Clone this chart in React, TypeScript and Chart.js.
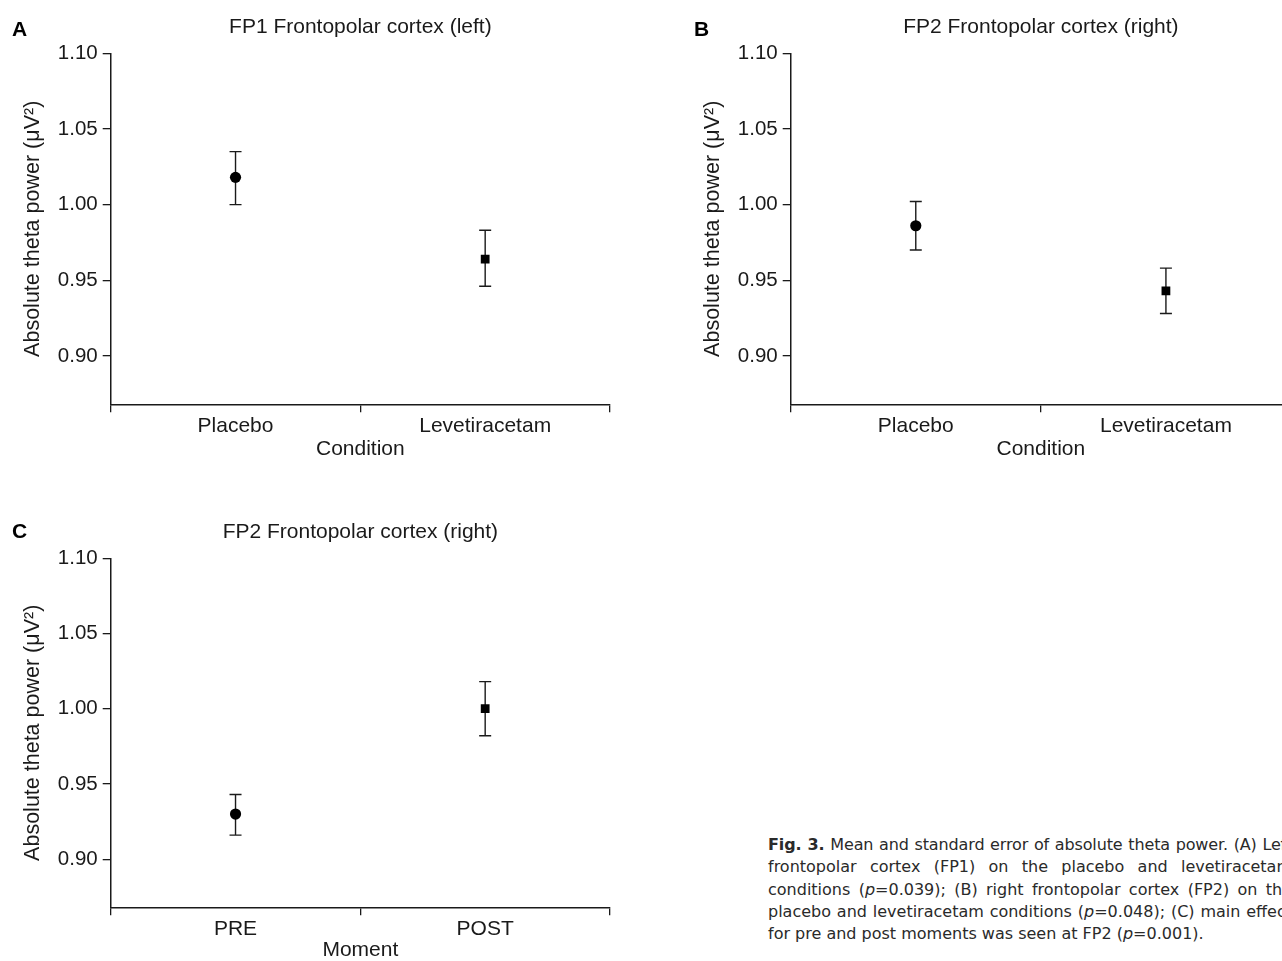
import React, { useEffect, useRef } from "react";
import { Chart, registerables } from "chart.js";

Chart.register(...registerables);

// ---------- data ----------
const conditionLabels = ["Placebo", "Levetiracetam"];
const momentLabels = ["PRE", "POST"];

const fp1Means = [1.018, 0.964];
const fp1Lower = [1.0, 0.946];
const fp1Upper = [1.035, 0.983];

const fp2Means = [0.986, 0.943];
const fp2Lower = [0.97, 0.928];
const fp2Upper = [1.002, 0.958];

const momentMeans = [0.93, 1.0];
const momentLower = [0.916, 0.982];
const momentUpper = [0.943, 1.018];

const yTicks = [0.9, 0.95, 1.0, 1.05, 1.1];
const yMin = 0.868;
const yMax = 1.1;

const FONT = "'Liberation Sans', Arial, Helvetica, sans-serif";
const INK = "#1a1a1a";

const errorBarPlugin = {
  id: "errorBars",
  beforeDatasetsDraw(chart: any, _args: any, opts: any) {
    const { ctx } = chart;
    const x = chart.scales.x;
    const y = chart.scales.y;
    const lower: number[] = opts.lower || [];
    const upper: number[] = opts.upper || [];
    ctx.save();
    ctx.strokeStyle = INK;
    ctx.lineWidth = 1.4;
    lower.forEach((lo, i) => {
      const px = x.getPixelForValue(i);
      const yl = y.getPixelForValue(lo);
      const yh = y.getPixelForValue(upper[i]);
      ctx.beginPath();
      ctx.moveTo(px, yl);
      ctx.lineTo(px, yh);
      ctx.moveTo(px - 6, yl);
      ctx.lineTo(px + 6, yl);
      ctx.moveTo(px - 6, yh);
      ctx.lineTo(px + 6, yh);
      ctx.stroke();
    });
    ctx.restore();
  },
};

type PanelProps = {
  left: number;
  top: number;
  width: number;
  height: number;
  axisLeft: number;
  chartRight: number;
  chartTop: number;
  chartBottom: number;
  xTitlePad: number;
  title: string;
  xTitle: string;
  labels: string[];
  means: number[];
  lower: number[];
  upper: number[];
};

function Panel(p: PanelProps) {
  const ref = useRef<HTMLCanvasElement | null>(null);
  useEffect(() => {
    if (!ref.current) return;
    const titleSize = 21;
    const titleLH = titleSize * 1.2;
    const titleCenter = 27;
    const padTop = titleCenter - titleLH / 2;
    const padBottom = p.chartTop - padTop - titleLH;
    const chart = new Chart(ref.current, {
      type: "line",
      data: {
        labels: p.labels,
        datasets: [
          {
            data: p.means,
            showLine: false,
            pointStyle: ["circle", "rect"],
            pointRadius: [5.6, 6.2],
            pointHoverRadius: [5.6, 6.2],
            backgroundColor: "#000",
            borderColor: "#000",
            borderWidth: 0,
          },
        ],
      },
      options: {
        animation: false,
        responsive: false,
        maintainAspectRatio: false,
        events: [],
        layout: { padding: { left: 0, right: p.width - p.chartRight, top: 0, bottom: 0 } },
        plugins: {
          legend: { display: false },
          tooltip: { enabled: false },
          title: {
            display: true,
            fullSize: false,
            text: p.title,
            color: INK,
            font: { family: FONT, size: titleSize, weight: "normal", lineHeight: 1.2 },
            padding: { top: padTop, bottom: padBottom },
          },
          errorBars: { lower: p.lower, upper: p.upper },
        } as any,
        scales: {
          x: {
            type: "category",
            offset: true,
            grid: {
              offset: true,
              drawOnChartArea: false,
              drawTicks: true,
              tickLength: 8,
              color: INK,
              lineWidth: 1.3,
            },
            border: { display: true, color: INK, width: 1.5 },
            ticks: {
              color: INK,
              font: { family: FONT, size: 21 },
              padding: 1,
              maxRotation: 0,
            },
            title: {
              display: true,
              text: p.xTitle,
              color: INK,
              font: { family: FONT, size: 21, lineHeight: 1.2 },
              padding: { top: 0, bottom: p.xTitlePad },
            },
            afterFit: (s: any) => {
              s.height = p.height - p.chartBottom;
            },
          },
          y: {
            type: "linear",
            min: yMin,
            max: yMax,
            afterBuildTicks: (s: any) => {
              s.ticks = yTicks.map((v) => ({ value: v }));
            },
            grid: {
              drawOnChartArea: false,
              drawTicks: true,
              tickLength: 8,
              color: INK,
              lineWidth: 1.3,
            },
            border: { display: true, color: INK, width: 1.5 },
            ticks: {
              color: INK,
              font: { family: FONT, size: 20.5 },
              padding: 5,
              callback: (v: any) => Number(v).toFixed(2),
            },
            title: {
              display: true,
              text: "Absolute theta power (\u03bcV\u00b2)",
              color: INK,
              font: { family: FONT, size: 21.5, lineHeight: 1.2 },
              padding: { top: 20, bottom: 0 },
            },
            afterFit: (s: any) => {
              s.width = p.axisLeft;
            },
          },
        },
      } as any,
      plugins: [errorBarPlugin as any],
    });
    return () => chart.destroy();
  }, []);
  return (
    <canvas
      ref={ref}
      width={p.width}
      height={p.height}
      style={{ position: "absolute", left: p.left, top: p.top, width: p.width, height: p.height }}
    />
  );
}

const letterStyle: React.CSSProperties = {
  position: "absolute",
  fontFamily: FONT,
  fontWeight: "bold",
  fontSize: 21,
  lineHeight: "21px",
  color: "#000",
};

const captionFont = "'DejaVu Sans', Verdana, sans-serif";
const lineStyle: React.CSSProperties = {
  textAlign: "justify",
  textAlignLast: "justify",
  whiteSpace: "nowrap",
  height: 22.3,
  lineHeight: "22.3px",
};

export default function App() {
  return (
    <div
      style={{
        position: "absolute",
        left: 0,
        top: 0,
        width: 1282,
        height: 961,
        overflow: "hidden",
        background: "#fff",
      }}
    >
      <Panel
        left={0}
        top={0}
        width={640}
        height={470}
        axisLeft={110.7}
        chartRight={610}
        chartTop={53.3}
        chartBottom={404.3}
        xTitlePad={8.4}
        title="FP1 Frontopolar cortex (left)"
        xTitle="Condition"
        labels={conditionLabels}
        means={fp1Means}
        lower={fp1Lower}
        upper={fp1Upper}
      />
      <Panel
        left={680}
        top={0}
        width={640}
        height={470}
        axisLeft={110.7}
        chartRight={611}
        chartTop={53.3}
        chartBottom={404.3}
        xTitlePad={8.4}
        title="FP2 Frontopolar cortex (right)"
        xTitle="Condition"
        labels={conditionLabels}
        means={fp2Means}
        lower={fp2Lower}
        upper={fp2Upper}
      />
      <Panel
        left={0}
        top={505}
        width={640}
        height={470}
        axisLeft={110.7}
        chartRight={610}
        chartTop={53.3}
        chartBottom={402.3}
        xTitlePad={12.4}
        title="FP2 Frontopolar cortex (right)"
        xTitle="Moment"
        labels={momentLabels}
        means={momentMeans}
        lower={momentLower}
        upper={momentUpper}
      />
      <div style={{ ...letterStyle, left: 12, top: 18 }}>A</div>
      <div style={{ ...letterStyle, left: 694, top: 18 }}>B</div>
      <div style={{ ...letterStyle, left: 12, top: 520 }}>C</div>
      <div
        style={{
          position: "absolute",
          left: 768,
          top: 834,
          width: 524,
          fontFamily: captionFont,
          fontSize: 16,
          color: "#2a2a2a",
        }}
      >
        <div style={{ ...lineStyle, letterSpacing: "-0.12px" }}>
          <b>Fig. 3.</b> Mean and standard error of absolute theta power. (A) Left
        </div>
        <div style={lineStyle}>frontopolar cortex (FP1) on the placebo and levetiracetam</div>
        <div style={lineStyle}>
          conditions (<i>p</i>=0.039); (B) right frontopolar cortex (FP2) on the
        </div>
        <div style={lineStyle}>
          placebo and levetiracetam conditions (<i>p</i>=0.048); (C) main effect
        </div>
        <div style={{ ...lineStyle, textAlignLast: "left" }}>
          for pre and post moments was seen at FP2 (<i>p</i>=0.001).
        </div>
      </div>
    </div>
  );
}
